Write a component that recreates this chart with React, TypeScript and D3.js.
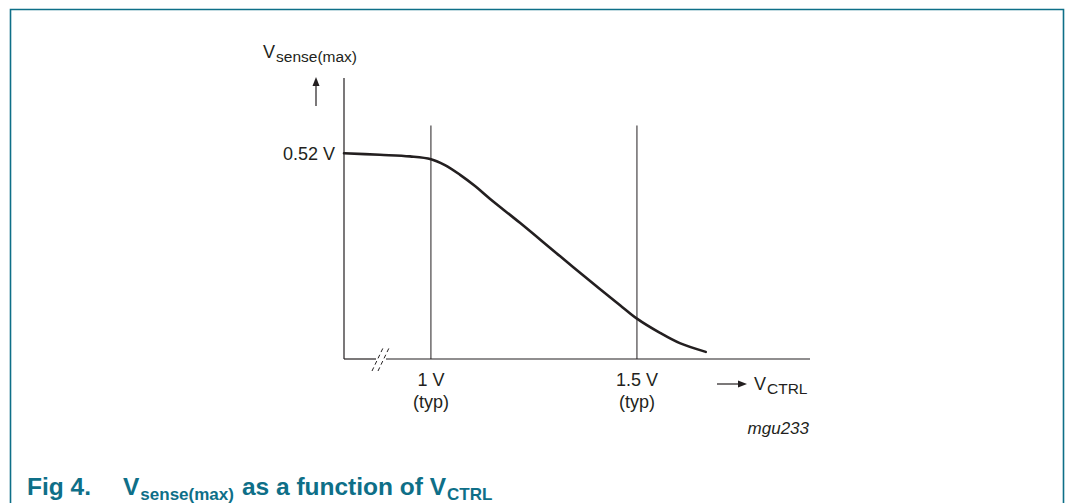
import React from 'react'
import * as d3 from 'd3'

// curve: V_CTRL (V) -> V_sense(max) (V)
const ctrlVolts = [0.789, 0.876, 0.949, 1.0, 1.034, 1.07, 1.107, 1.143, 1.216, 1.313, 1.41, 1.459, 1.5, 1.556, 1.604, 1.667]
const senseVolts = [0.52, 0.516, 0.512, 0.505, 0.49, 0.466, 0.437, 0.405, 0.344, 0.26, 0.177, 0.136, 0.102, 0.066, 0.04, 0.018]

const xTicks = [1.0, 1.5]
const xTickLabels = ['1 V', '1.5 V']
const yTicks = [0.52]
const yTickLabels = ['0.52 V']
const guideTop = 0.59

const W = 1066
const H = 503
const TEAL = '#0e6f88'
const INK = '#231f20'
const FONT = 'Arial, "Liberation Sans", Helvetica, sans-serif'

export default function App() {
  const x = d3.scaleLinear().domain([0.789, 1.92]).range([344, 810])
  const y = d3.scaleLinear().domain([0, 0.71]).range([359, 78])

  const pts: [number, number][] = ctrlVolts.map((v, i) => [v, senseVolts[i]])
  const line = d3.line<[number, number]>()
    .x(d => x(d[0]))
    .y(d => y(d[1]))
    .curve(d3.curveCatmullRom.alpha(0.5))

  const [x0, x1] = x.range()
  const y0 = y(0)
  const yTop = y(0.71)

  return (
    <svg width={W} height={H} style={{ position: 'absolute', left: 0, top: 0 }}
      fontFamily={FONT}>
      <rect width={W} height={H} fill="#fff" />

      {/* frame */}
      <path d={`M10.5,${H} V9.5 H1063.5 V${H}`} fill="none" stroke={TEAL} strokeWidth={1.6} />

      {/* axes */}
      <line x1={x0} x2={x0} y1={yTop} y2={y0} stroke={INK} strokeWidth={1.2} />
      <line x1={x0} x2={376} y1={y0} y2={y0} stroke={INK} strokeWidth={1.2} />
      <line x1={386} x2={x1} y1={y0} y2={y0} stroke={INK} strokeWidth={1.2} />

      {/* axis break */}
      <g stroke={INK} strokeWidth={1} strokeDasharray="4 3">
        <line x1={372} y1={371} x2={383} y2={348} />
        <line x1={378} y1={371} x2={389} y2={348} />
      </g>

      {/* typical guides */}
      {xTicks.map(t => (
        <line key={t} x1={x(t)} x2={x(t)} y1={y(guideTop)} y2={y0} stroke={INK} strokeWidth={1} />
      ))}

      {/* curve */}
      <path d={line(pts) ?? ''} fill="none" stroke={INK} strokeWidth={2.6} strokeLinecap="round" />

      {/* tick labels */}
      <g fill={INK} fontSize={18}>
        {xTicks.map((t, i) => (
          <g key={t}>
            <text x={x(t)} y={386} textAnchor="middle">{xTickLabels[i]}</text>
            <text x={x(t)} y={408} textAnchor="middle">(typ)</text>
          </g>
        ))}
        {yTicks.map((t, i) => (
          <text key={t} x={x0 - 9} y={y(t) + 6.5} textAnchor="end">{yTickLabels[i]}</text>
        ))}
      </g>

      {/* y axis title */}
      <text x={263} y={58} fill={INK} fontSize={18}>
        V<tspan dx={1} dy={4} fontSize={15.5}>sense(max)</tspan>
      </text>
      <line x1={316} x2={316} y1={106} y2={84} stroke={INK} strokeWidth={1.2} />
      <path d="M312.5,86 L316,77 L319.5,86 Z" fill={INK} />

      {/* x axis title */}
      <line x1={717} x2={740} y1={384} y2={384} stroke={INK} strokeWidth={1.2} />
      <path d="M738,380.5 L747,384 L738,387.5 Z" fill={INK} />
      <text x={754} y={390} fill={INK} fontSize={18}>
        V<tspan dx={1} dy={4} fontSize={15.5}>CTRL</tspan>
      </text>

      <text x={809} y={434} textAnchor="end" fill={INK} fontSize={17} fontStyle="italic">mgu233</text>

      {/* caption */}
      <g fill={TEAL} fontWeight="bold" fontSize={24.5}>
        <text x={27} y={495}>Fig 4.</text>
        <text x={123} y={495}>
          V<tspan dx={1} dy={5} fontSize={17}>sense(max)</tspan>
          <tspan dx={8} dy={-5}>as a function of V</tspan>
          <tspan dx={1} dy={5} fontSize={17}>CTRL</tspan>
        </text>
      </g>
    </svg>
  )
}
